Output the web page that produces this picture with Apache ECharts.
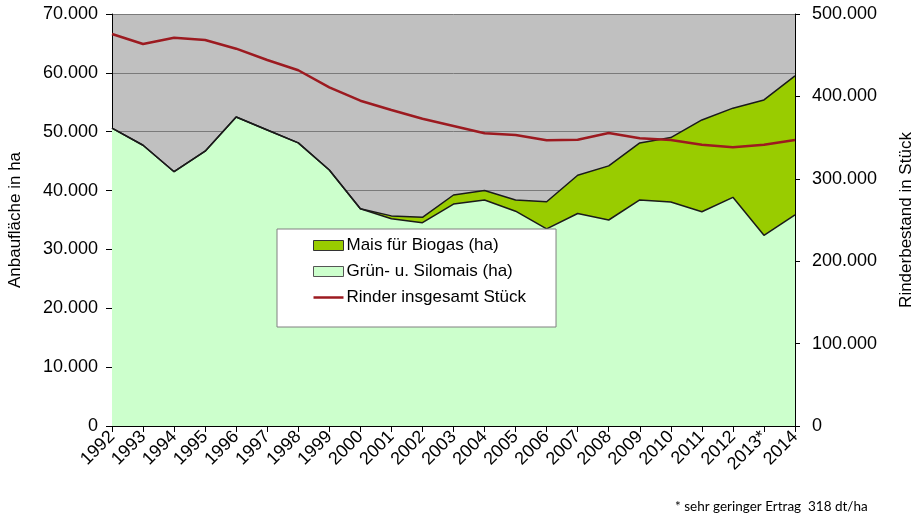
<!DOCTYPE html>
<html>
<head>
<meta charset="utf-8">
<script src="https://cdn.jsdelivr.net/npm/echarts@6/dist/echarts.min.js"></script>
<style>
  html, body { margin: 0; padding: 0; background: #fff; }
  #main { width: 917px; height: 516px; }
</style>
</head>
<body>
<div id="main"></div>
<script>
const years = ['1992', '1993', '1994', '1995', '1996', '1997', '1998', '1999', '2000', '2001', '2002',
  '2003', '2004', '2005', '2006', '2007', '2008', '2009', '2010', '2011', '2012', '2013*', '2014'];
// Grün- u. Silomais (ha)
const silomais = [50600, 47700, 43200, 46700, 52500, 50300, 48100, 43500, 36900, 35200, 34550,
  37700, 38400, 36500, 33500, 36100, 35000, 38400, 38050, 36400, 38850, 32400, 35850];
// Mais für Biogas (ha), oben auf Silomais gestapelt
const biogas = [0, 0, 0, 0, 0, 0, 0, 0, 0, 500, 900,
  1550, 1600, 1900, 4600, 6500, 9200, 9700, 10950, 15600, 15150, 23000, 23650];
// Rinder insgesamt Stück
const rinder = [475700, 463600, 471200, 468400, 457900, 444200, 431700, 411000, 394800, 383500, 372900,
  364100, 355200, 353200, 346700, 347500, 355600, 349100, 347100, 341400, 338200, 341400, 347100];

const fmt = v => String(v).replace(/\B(?=(\d{3})+(?!\d))/g, '.');
const axisFont = { fontFamily: 'Liberation Sans', fontSize: 18, color: '#000' };

const chart = echarts.init(document.getElementById('main'));
chart.setOption({
  animation: false,
  grid: {
    left: 112, right: 122, top: 14, bottom: 90,
    containLabel: false, outerBoundsMode: 'none',
    show: true, backgroundColor: '#c0c0c0', borderWidth: 0,
  },
  legend: {
    data: [
      { name: 'Mais für Biogas (ha)', icon: 'rect', itemStyle: { color: '#99cc00', borderColor: '#333', borderWidth: 1 } },
      { name: 'Grün- u. Silomais (ha)', icon: 'rect', itemStyle: { color: '#ccffcc', borderColor: '#555', borderWidth: 1 } },
      { name: 'Rinder insgesamt Stück', icon: 'path://M0,0H30V2.5H0Z', itemStyle: { color: '#9c1a20' } },
    ],
    orient: 'vertical',
    left: 277, top: 229,
    padding: [8, 30, 21, 36],
    itemGap: 9,
    itemWidth: 30, itemHeight: 10,
    backgroundColor: '#fff',
    borderColor: '#808080', borderWidth: 1,
    textStyle: { fontFamily: 'Liberation Sans', fontSize: 17, color: '#000', padding: [0, 0, 0, -2] },
  },
  xAxis: {
    type: 'category',
    data: years,
    boundaryGap: false,
    axisLine: { lineStyle: { color: '#000' } },
    axisTick: { alignWithLabel: true, length: 6, lineStyle: { color: '#000' } },
    axisLabel: Object.assign({ rotate: 45, interval: 0, margin: 8 }, axisFont),
    splitLine: { show: false },
  },
  yAxis: [
    {
      type: 'value', min: 0, max: 70000, interval: 10000,
      name: 'Anbaufläche in ha', nameLocation: 'middle', nameRotate: 90, nameGap: 88,
      nameTextStyle: { fontFamily: 'Liberation Sans', fontSize: 17, color: '#000' },
      axisLine: { show: true, lineStyle: { color: '#000' } },
      axisTick: { show: true, length: 6, lineStyle: { color: '#000' } },
      axisLabel: Object.assign({ formatter: fmt, margin: 14 }, axisFont),
      splitLine: { show: true, lineStyle: { color: '#7a7a7a', width: 1 } },
    },
    {
      type: 'value', min: 0, max: 500000, interval: 100000,
      name: 'Rinderbestand in Stück', nameLocation: 'middle', nameRotate: 90, nameGap: 103,
      nameTextStyle: { fontFamily: 'Liberation Sans', fontSize: 17, color: '#000' },
      axisLine: { show: true, lineStyle: { color: '#000' } },
      axisTick: { show: true, length: 5, lineStyle: { color: '#000' } },
      axisLabel: Object.assign({ formatter: fmt, margin: 17 }, axisFont),
      splitLine: { show: false },
    },
  ],
  series: [
    {
      name: 'Grün- u. Silomais (ha)',
      type: 'line', stack: 'mais', data: silomais,
      symbol: 'none', z: 2,
      lineStyle: { color: '#1a1a1a', width: 1.5 },
      itemStyle: { color: '#ccffcc' },
      areaStyle: { color: '#ccffcc', opacity: 1 },
    },
    {
      name: 'Mais für Biogas (ha)',
      type: 'line', stack: 'mais', data: biogas,
      symbol: 'none', z: 2,
      lineStyle: { color: '#1a1a1a', width: 1.5 },
      itemStyle: { color: '#99cc00' },
      areaStyle: { color: '#99cc00', opacity: 1 },
    },
    {
      name: 'Rinder insgesamt Stück',
      type: 'line', yAxisIndex: 1, data: rinder,
      symbol: 'none', z: 3,
      lineStyle: { color: '#9c1a20', width: 2.5 },
      itemStyle: { color: '#9c1a20' },
    },
  ],
  graphic: [
    {
      type: 'text', left: 675, top: 500,
      style: { text: '* sehr geringer Ertrag  318 dt/ha', fontFamily: 'Lato', fontSize: 13.5, fill: '#000' },
    },
  ],
});
</script>
</body>
</html>
